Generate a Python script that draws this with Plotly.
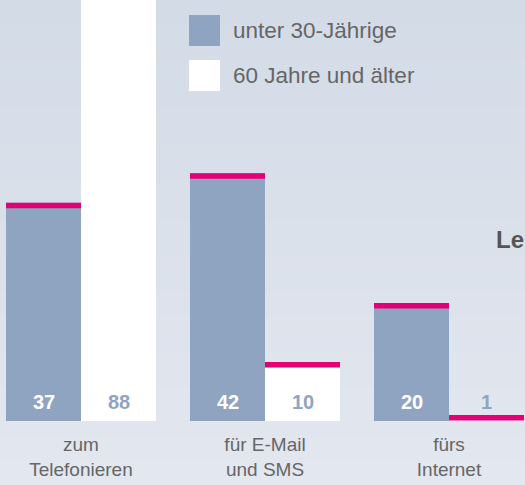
import plotly.graph_objects as go

categories = ["zum<br>Telefonieren", "für E-Mail<br>und SMS", "fürs<br>Internet"]
unter30 = [37, 42, 20]
ab60 = [88, 10, 1]
series_names = ["unter 30-Jährige", "60 Jahre und älter"]

BLUE = "#8fa4c1"
WHITE = "#ffffff"
PINK = "#e20074"
TXT = "#666666"
CAP = 0.93

W, H = 525, 485
B = 64
PH = H - B

fig = go.Figure()
fig.add_bar(x=categories, y=unter30, marker_color=BLUE, marker_line_width=0,
            offsetgroup="a", name=series_names[0], showlegend=False)
fig.add_bar(x=categories, y=ab60, marker_color=WHITE, marker_line_width=0,
            offsetgroup="b", name=series_names[1], showlegend=False)
fig.add_bar(x=categories, y=[CAP] * 3, base=[v - CAP for v in unter30], marker_color=PINK,
            marker_line_width=0, offsetgroup="a", showlegend=False, hoverinfo="skip")
fig.add_bar(x=categories, y=[CAP] * 3, base=[v - CAP for v in ab60], marker_color=PINK,
            marker_line_width=0, offsetgroup="b", showlegend=False, hoverinfo="skip")

# value labels
for c, v in zip(categories, unter30):
    fig.add_annotation(x=c, y=0, xshift=-37.5, yshift=19.5, yanchor="middle", text=f"<b>{v}</b>",
                       showarrow=False, font=dict(family="Liberation Sans", size=20, color="#ffffff"))
for c, v in zip(categories, ab60):
    fig.add_annotation(x=c, y=0, xshift=37.5, yshift=19.5, yanchor="middle", text=f"<b>{v}</b>",
                       showarrow=False, font=dict(family="Liberation Sans", size=20, color=BLUE))

# background gradient bands
shapes = []
top = (211, 219, 231)
bot = (227, 231, 239)
n = 40
for i in range(n):
    t = i / (n - 1)
    col = tuple(round(top[k] + (bot[k] - top[k]) * t) for k in range(3))
    y0px = H * i / n
    y1px = H * (i + 1) / n + 1
    shapes.append(dict(type="rect", xref="paper", yref="paper", layer="below",
                       x0=0, x1=1, y0=1 - y1px / PH, y1=1 - y0px / PH,
                       fillcolor="rgb(%d,%d,%d)" % col, line_width=0))

# legend swatches
for j, col in enumerate([BLUE, WHITE]):
    y0 = 15 + 45 * j
    shapes.append(dict(type="rect", xref="paper", yref="paper", layer="above",
                       x0=189 / W, x1=220 / W, y0=1 - (y0 + 31) / PH, y1=1 - y0 / PH,
                       fillcolor=col, line_width=0))
    fig.add_annotation(xref="paper", yref="paper", x=231 / W, y=1 - (y0 + 15) / PH,
                       xanchor="left", yanchor="middle", text=series_names[j], showarrow=False,
                       font=dict(family="Liberation Sans", size=22.5, color=TXT))

fig.add_annotation(xref="paper", yref="paper", x=1, y=1 - 239 / PH, xanchor="right",
                   yanchor="middle", text="<b>Le</b>", showarrow=False, borderpad=0,
                   font=dict(family="Liberation Sans", size=24, color="#555555"))

fig.update_layout(
    width=W, height=H, margin=dict(l=0, r=0, t=0, b=B),
    paper_bgcolor="rgb(219,225,235)", plot_bgcolor="rgba(0,0,0,0)",
    barmode="group", bargap=34 / 184, bargroupgap=0,
    shapes=shapes, showlegend=False,
    font=dict(family="Liberation Sans", color=TXT),
)
fig.update_xaxes(range=[-81 / 184, (W - 81) / 184], showgrid=False, zeroline=False, showline=False,
                 ticks="", ticklabelstandoff=10,
                 tickfont=dict(family="Liberation Sans", size=19, color=TXT))
fig.update_yaxes(range=[0, PH / 5.9], visible=False)

fig.write_html("out.html")
